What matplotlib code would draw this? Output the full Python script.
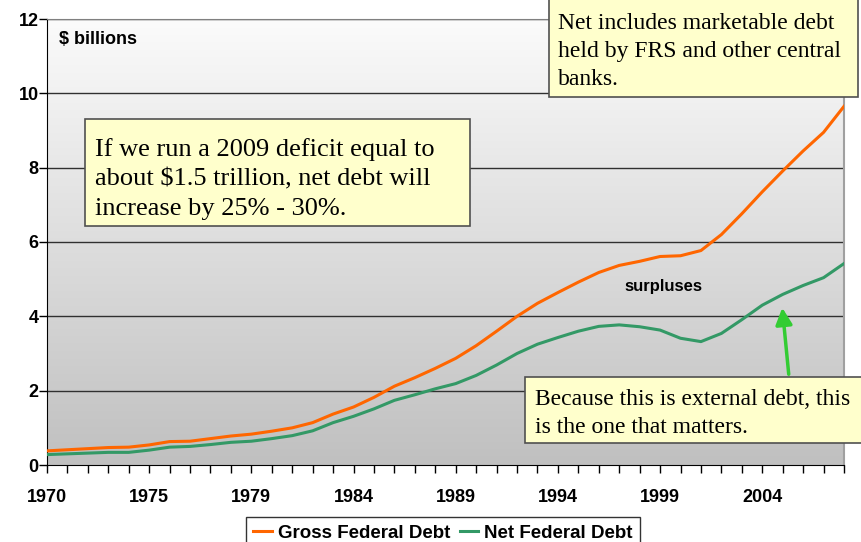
import numpy as np
import matplotlib.pyplot as plt
from matplotlib.patches import Rectangle, FancyArrowPatch
from matplotlib.colors import LinearSegmentedColormap

# Federal debt, $ trillions, fiscal years 1970-2008 (TQ = 1976 transition quarter)
years = ['1970', '1971', '1972', '1973', '1974', '1975', '1976', 'TQ',
         '1977', '1978', '1979', '1980', '1981', '1982', '1983', '1984',
         '1985', '1986', '1987', '1988', '1989', '1990', '1991', '1992',
         '1993', '1994', '1995', '1996', '1997', '1998', '1999', '2000',
         '2001', '2002', '2003', '2004', '2005', '2006', '2007', '2008']
gross_debt = [0.38, 0.41, 0.44, 0.47, 0.48, 0.54, 0.63, 0.64, 0.71, 0.78,
              0.83, 0.91, 1.00, 1.14, 1.37, 1.56, 1.82, 2.12, 2.35, 2.60,
              2.87, 3.21, 3.60, 4.00, 4.35, 4.64, 4.92, 5.18, 5.37, 5.48,
              5.61, 5.63, 5.77, 6.20, 6.76, 7.35, 7.91, 8.45, 8.95, 9.65]
net_debt = [0.28, 0.30, 0.32, 0.34, 0.34, 0.40, 0.48, 0.50, 0.55, 0.61,
            0.64, 0.71, 0.79, 0.92, 1.14, 1.31, 1.51, 1.74, 1.89, 2.05,
            2.19, 2.41, 2.69, 3.00, 3.25, 3.43, 3.60, 3.73, 3.77, 3.72,
            3.63, 3.41, 3.32, 3.54, 3.91, 4.30, 4.59, 4.83, 5.04, 5.42]
label_every = 5

W, H = 862, 542
fig = plt.figure(figsize=(W / 100, H / 100), dpi=100)
fig.patch.set_facecolor('white')


def fx(px):
    return px / W


def fy(py):
    return 1 - py / H


ax = fig.add_axes([fx(47), fy(465), fx(844) - fx(47), fy(19) - fy(465)])
x = np.arange(len(years))

# vertical gradient background, light at top to grey at bottom
grad = np.linspace(0, 1, 256).reshape(-1, 1)
ax.imshow(grad, extent=[0, 1, 0, 1], transform=ax.transAxes, aspect='auto',
          cmap=LinearSegmentedColormap.from_list('bg', ['#c0c0c0', '#fbfbfb']),
          origin='lower', zorder=0)

for v in range(2, 13, 2):
    ax.axhline(v, color='#303030', lw=1, zorder=1)

ax.plot(x, gross_debt, color='#ff6600', lw=2.2, label='Gross Federal Debt', zorder=3)
ax.plot(x, net_debt, color='#339966', lw=2.2, label='Net Federal Debt', zorder=3)

ax.set_xlim(0, len(years) - 1)
ax.set_ylim(0, 12)
ax.set_xticks(x)
ax.set_xticklabels([y if i % label_every == 0 else '' for i, y in enumerate(years)])
ax.set_yticks(range(0, 13, 2))
for lab in ax.get_xticklabels() + ax.get_yticklabels():
    lab.set_family('Liberation Sans')
    lab.set_weight('bold')
    lab.set_size(13)
ax.tick_params(axis='x', length=6, width=1, pad=11, direction='out')
ax.tick_params(axis='y', length=6, width=1, pad=0, direction='out')
ax.spines['left'].set_color('black')
ax.spines['bottom'].set_color('black')
ax.spines['top'].set_color('#808080')
ax.spines['right'].set_color('#a0a0a0')
ax.spines['right'].set_linewidth(1.5)

fig.text(fx(59), fy(39), '$ billions', ha='left', va='center',
         family='Liberation Sans', weight='bold', fontsize=13)
fig.text(fx(663), fy(287), 'surpluses', ha='center', va='center',
         family='Liberation Sans', weight='bold', fontsize=12)

leg = ax.legend(loc='upper center', bbox_to_anchor=(fx(443), fy(517)),
                bbox_transform=fig.transFigure, ncol=2, frameon=True,
                fancybox=False, handlelength=1.0, handletextpad=0.3,
                columnspacing=0.5, borderpad=0.4, borderaxespad=0,
                prop=dict(family='Liberation Sans', weight='bold', size=13.5))
leg.get_frame().set_edgecolor('black')
leg.get_frame().set_linewidth(1)


def note_box(x0, y0, x1, y1, text, tx, ty, size, spacing):
    fig.patches.append(Rectangle((fx(x0), fy(y1)), fx(x1) - fx(x0), fy(y0) - fy(y1),
                                 transform=fig.transFigure, facecolor='#ffffcc',
                                 edgecolor='#505050', lw=1.2, zorder=5))
    fig.text(fx(tx), fy(ty), text, ha='left', va='baseline', family='Liberation Serif',
             fontsize=size, linespacing=spacing, zorder=6)


# baselines given for the last line of each note
note_box(85, 119, 470, 226,
         'If we run a 2009 deficit equal to\nabout $1.5 trillion, net debt will\nincrease by 25% - 30%.',
         95, 215, 19, 1.45)
note_box(549, -2, 858, 97,
         'Net includes marketable debt\nheld by FRS and other central\nbanks.',
         558, 85, 17, 1.45)
note_box(525, 377, 866, 443,
         'Because this is external debt, this\nis the one that matters.',
         535, 433, 17, 1.45)

fig.add_artist(FancyArrowPatch(
    (fx(789), fy(377)), (fx(782), fy(305)), transform=fig.transFigure,
    arrowstyle='-|>,head_length=10,head_width=5', color='#33cc33', lw=2.5,
    mutation_scale=1, zorder=7))

fig.savefig('out.png', dpi=100)
